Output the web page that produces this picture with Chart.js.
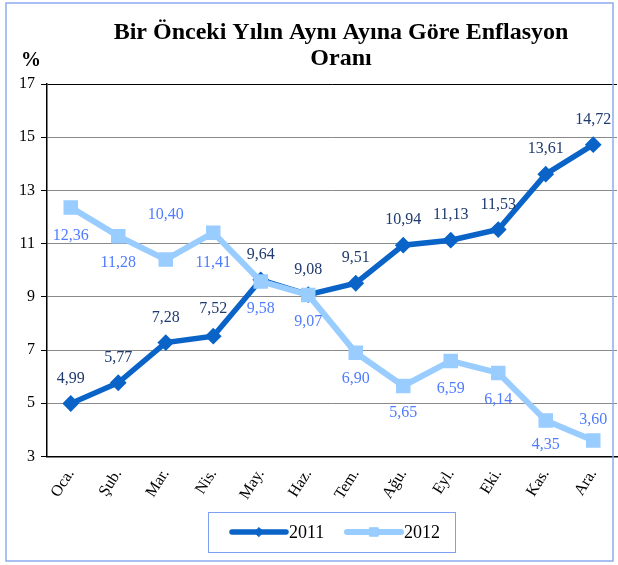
<!DOCTYPE html>
<html>
<head>
<meta charset="utf-8">
<script src="https://cdn.jsdelivr.net/npm/chart.js@4/dist/chart.umd.min.js"></script>
<style>
  html, body { margin: 0; padding: 0; background: #fff; }
  #wrap { width: 618px; height: 565px; }
</style>
</head>
<body>
<div id="wrap"><canvas id="inflationChart" width="618" height="565"></canvas></div>
<script>
// chart data
const months = ['Oca.', 'Şub.', 'Mar.', 'Nis.', 'May.', 'Haz.', 'Tem.', 'Ağu.', 'Eyl.', 'Eki.', 'Kas.', 'Ara.'];
const values2011 = [4.99, 5.77, 7.28, 7.52, 9.64, 9.08, 9.51, 10.94, 11.13, 11.53, 13.61, 14.72];
const values2012 = [12.36, 11.28, 10.40, 11.41, 9.58, 9.07, 6.90, 5.65, 6.59, 6.14, 4.35, 3.60];
const yTicks = [3, 5, 7, 9, 11, 13, 15, 17];

const serif = '"Liberation Serif", "Times New Roman", serif';

// where each value label sits relative to its point (px, vertical)
const labelShift = [
    [-25, -25, -25, -27, -25, -25, -25, -25, -25, -25, -25, -25],
    [28, 27, -45, 30, 27, 27, 26, 27, 28, 27, 24, -21]
];
const labelColors = ['#1f3a6e', '#4f7cff'];

function fmt(v) {
    return v.toFixed(2).replace('.', ',');
}

// title, value labels, legend box and frame
const decorPlugin = {
    id: 'decor',
    afterDatasetsDraw(chart) {
        const ctx = chart.ctx;
        ctx.save();
        ctx.font = '16px ' + serif;
        ctx.textAlign = 'center';
        ctx.textBaseline = 'middle';
        chart.data.datasets.forEach((ds, i) => {
            const meta = chart.getDatasetMeta(i);
            ctx.fillStyle = labelColors[i];
            meta.data.forEach((pt, j) => {
                ctx.fillText(fmt(ds.data[j]), pt.x, pt.y + labelShift[i][j]);
            });
        });
        ctx.restore();
    },
    afterDraw(chart) {
        const ctx = chart.ctx;
        ctx.save();

        // title
        ctx.fillStyle = '#000';
        ctx.textAlign = 'center';
        ctx.textBaseline = 'middle';
        ctx.font = 'bold 24px ' + serif;
        ctx.fillText('Bir Önceki Yılın Aynı Ayına Göre Enflasyon', 341, 33);
        ctx.fillText('Oranı', 341, 59);
        ctx.font = 'bold 20px ' + serif;
        ctx.fillText('%', 31, 61);

        // legend
        const bx = 208.5, by = 512.5, boxW = 247, boxH = 40;
        ctx.strokeStyle = '#7f9ff0';
        ctx.lineWidth = 1;
        ctx.strokeRect(bx, by, boxW, boxH);
        const cy = 532;
        let x = 232;
        chart.data.datasets.forEach((ds) => {
            ctx.strokeStyle = ds.borderColor;
            ctx.lineWidth = ds.borderWidth;
            ctx.lineCap = 'round';
            ctx.beginPath();
            ctx.moveTo(x, cy);
            ctx.lineTo(x + 54, cy);
            ctx.stroke();
            ctx.fillStyle = ds.borderColor;
            ctx.lineWidth = 1;
            Chart.helpers.drawPoint(ctx, {
                pointStyle: ds.pointStyle,
                radius: ds.pointRadius,
                borderWidth: 1
            }, x + 27, cy);
            ctx.fillStyle = '#000';
            ctx.textAlign = 'left';
            ctx.font = '18px ' + serif;
            ctx.fillText(ds.label, x + 57, cy + 1);
            x += 115;
        });

        // outer frame
        ctx.strokeStyle = '#8eaaf0';
        ctx.lineWidth = 1.5;
        ctx.strokeRect(6, 3, 607, 558);
        ctx.restore();
    }
};

const ctx = document.getElementById('inflationChart').getContext('2d');
new Chart(ctx, {
    type: 'line',
    data: {
        labels: months,
        datasets: [{
            label: '2011',
            data: values2011,
            order: 1,
            borderColor: '#0a64c8',
            backgroundColor: '#0a64c8',
            borderWidth: 5.5,
            pointStyle: 'rectRot',
            pointRadius: 4.5,
            pointBorderColor: '#0a64c8',
            pointBackgroundColor: '#0a64c8',
            tension: 0
        }, {
            label: '2012',
            data: values2012,
            order: 0,
            borderColor: '#99ccff',
            backgroundColor: '#99ccff',
            borderWidth: 6,
            pointStyle: 'rect',
            pointRadius: 6,
            pointBorderColor: '#99ccff',
            pointBackgroundColor: '#99ccff',
            tension: 0
        }]
    },
    options: {
        responsive: false,
        animation: false,
        layout: { autoPadding: false, padding: { top: 84, left: 8, right: 1, bottom: 61 } },
        plugins: {
            legend: { display: false },
            title: { display: false },
            tooltip: { enabled: false }
        },
        scales: {
            x: {
                offset: true,
                grid: { display: false },
                border: { display: true, color: '#000', width: 1.5 },
                ticks: {
                    color: '#000',
                    font: { family: serif, size: 16 },
                    minRotation: 58,
                    maxRotation: 58,
                    padding: 1
                }
            },
            y: {
                min: 3,
                max: 17,
                afterBuildTicks: function(scale) {
                    scale.ticks = yTicks.map(v => ({ value: v }));
                },
                afterFit: function(scale) {
                    scale.width = 39;
                },
                grid: {
                    color: c => (c.tick && c.tick.value === 17) ? '#000' : '#8a8a8a',
                    lineWidth: 1,
                    tickLength: 6,
                    tickColor: '#000'
                },
                border: { color: '#000', width: 1.5 },
                ticks: {
                    color: '#000',
                    font: { family: serif, size: 16 },
                    padding: 6
                }
            }
        }
    },
    plugins: [decorPlugin]
});
</script>
</body>
</html>
